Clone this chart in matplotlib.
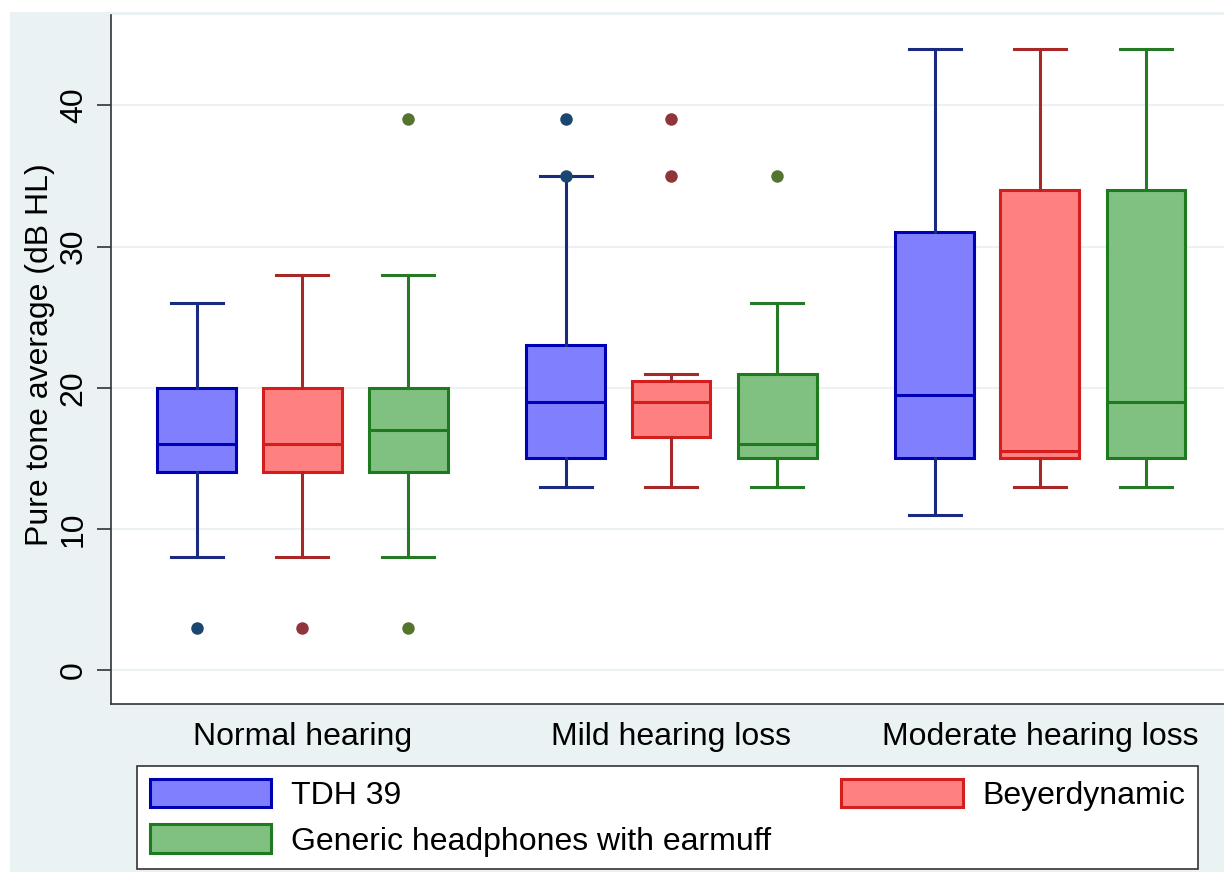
import matplotlib.pyplot as plt
from matplotlib.patches import Rectangle, Patch
import numpy as np

# (dB HL)
groups = ['Normal hearing', 'Mild hearing loss', 'Moderate hearing loss']
devices = ['TDH 39', 'Beyerdynamic', 'Generic headphones with earmuff']

# per device: one entry per group -> (whislo, q1, med, q3, whishi)
tdh_stats = [(8, 14, 16, 20, 26), (13, 15, 19, 23, 35), (11, 15, 19.5, 31, 44)]
beyer_stats = [(8, 14, 16, 20, 28), (13, 16.5, 19, 20.5, 21), (13, 15, 15.5, 34, 44)]
generic_stats = [(8, 14, 17, 20, 28), (13, 15, 16, 21, 26), (13, 15, 19, 34, 44)]

tdh_out = [[3], [35, 39], []]
beyer_out = [[3], [35, 39], []]
generic_out = [[3, 39], [35], []]

fills = ['#8080ff', '#ff8080', '#80c080']
edges = ['#0000b4', '#d41e1e', '#1e7a1e']
whisk = ['#1a2a80', '#a82828', '#267a26']
dots = ['#1a476f', '#90353b', '#55752f']

plt.rcParams['font.family'] = ['Liberation Sans', 'DejaVu Sans']

fig = plt.figure(figsize=(12.24, 8.72), dpi=100)
fig.patch.set_facecolor('white')
fig.add_artist(Rectangle((10 / 1224, 0), 1, 1 - 12 / 872, transform=fig.transFigure,
                         facecolor='#eaf2f3', edgecolor='none', zorder=-10))

ax = fig.add_axes([111 / 1224, 168 / 872, 1 - 111 / 1224, (704 - 15) / 872])
ax.set_facecolor('white')

offsets = [-0.285, 0.0, 0.2875]
all_stats = [tdh_stats, beyer_stats, generic_stats]
all_out = [tdh_out, beyer_out, generic_out]

for d in range(3):
    stats = []
    for g in range(3):
        lo, q1, med, q3, hi = all_stats[d][g]
        stats.append(dict(whislo=lo, q1=q1, med=med, q3=q3, whishi=hi,
                          fliers=all_out[d][g]))
    pos = [g + offsets[d] for g in range(3)]
    ax.bxp(stats, positions=pos, widths=0.214, capwidths=0.141,
           patch_artist=True, showfliers=True, manage_ticks=False,
           boxprops=dict(facecolor=fills[d], edgecolor=edges[d], linewidth=2.2),
           medianprops=dict(color=edges[d], linewidth=2.2),
           whiskerprops=dict(color=whisk[d], linewidth=2.2),
           capprops=dict(color=whisk[d], linewidth=2.2),
           flierprops=dict(marker='o', markersize=9, markerfacecolor=dots[d],
                           markeredgecolor='none'))

ax.set_xlim(-0.518, 2.499)
ax.set_ylim(-2.4, 46.4)
ax.set_xticks(range(3))
ax.set_xticklabels(groups, fontsize=23)
ax.tick_params(axis='x', length=0, pad=13)
ax.set_yticks([0, 10, 20, 30, 40])
ax.set_yticklabels(['0', '10', '20', '30', '40'], fontsize=23, rotation=90, va='center')
ax.tick_params(axis='y', length=10, width=1.2, color='#333333', pad=6)
ax.grid(axis='y', color='#eaf2f3', linewidth=1.5)
ax.set_axisbelow(True)
ax.set_ylabel('Pure tone average (dB HL)', fontsize=23, va='center')
ax.yaxis.set_label_coords(-0.0638, 0.5065)
for s in ['top', 'right']:
    ax.spines[s].set_visible(False)
for s in ['left', 'bottom']:
    ax.spines[s].set_color('#333333')
    ax.spines[s].set_linewidth(1.2)

handles = [Patch(facecolor=fills[i], edgecolor=edges[i], linewidth=2.2) for i in range(3)]
order = [0, 2, 1]
leg = fig.legend([handles[i] for i in order], [devices[i] for i in order],
                 ncol=2, loc='upper left', bbox_to_anchor=(137 / 1224, 1 - 766 / 872),
                 fontsize=23, frameon=True, fancybox=False, edgecolor='#333333',
                 facecolor='white', framealpha=1,
                 handlelength=3.8, handleheight=1.0, handletextpad=0.62,
                 columnspacing=2.2, labelspacing=0.42, borderpad=0.4, borderaxespad=0)
leg.get_frame().set_linewidth(1.2)

fig.savefig('out.png', dpi=100, facecolor=fig.get_facecolor())
